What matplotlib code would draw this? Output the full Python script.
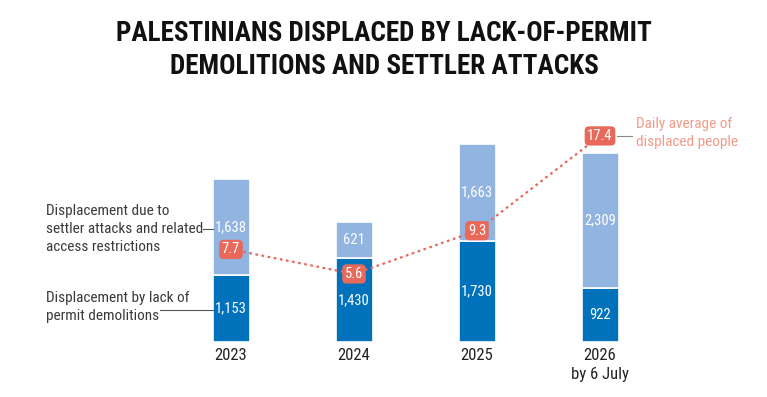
import matplotlib
matplotlib.use("Agg")
import matplotlib.pyplot as plt
from matplotlib import font_manager
from matplotlib.font_manager import FontProperties
import os

years = ["2023", "2024", "2025", "2026\nby 6 July"]
demolitions = [1153, 1430, 1730, 922]
settler = [1638, 621, 1663, 2309]
daily_avg = [7.7, 5.6, 9.3, 17.4]

DARK = "#0072bc"
LIGHT = "#92b4e0"
RED = "#e8685a"
SALMON = "#f29a88"

files = [f.fname for f in font_manager.fontManager.ttflist]
def find(pref):
    for p in pref:
        for f in files:
            if os.path.basename(f).lower() == p.lower():
                return f
    return None

reg = find(['RobotoCondensed-Regular.ttf', 'LiberationSansNarrow-Regular.ttf', 'DejaVuSansCondensed.ttf'])
bold = find(['RobotoCondensed-Bold.ttf', 'LiberationSansNarrow-Bold.ttf', 'DejaVuSansCondensed-Bold.ttf'])
if reg:
    FP = FontProperties(fname=reg)
    sc = 1.0
else:
    FP = FontProperties(family='Roboto')
    sc = 0.88
if bold:
    FPB = FontProperties(fname=bold)
else:
    FPB = FontProperties(family='Roboto', weight='bold')

W, H = 767, 397
fig = plt.figure(figsize=(W/100, H/100), dpi=100)
base_px = 342
ax = fig.add_axes([0, (H-base_px)/H, 1, base_px/H])
x = list(range(len(years)))
spacing = 123.0
x0 = 231.0
ax.set_xlim(-x0/spacing, (W-x0)/spacing)
pxu = 0.0584
ax.set_ylim(0, base_px/pxu)
ax.axis('off')

bw = 37/spacing
ax.bar(x, demolitions, width=bw, color=DARK, edgecolor='white', linewidth=1.2)
ax.bar(x, settler, bottom=demolitions, width=bw, color=LIGHT, edgecolor='white', linewidth=1.2)

for i in x:
    d, s = demolitions[i], settler[i]
    ax.text(i, d/2, f"{d:,}", ha='center', va='center', color='white', fontproperties=FP, fontsize=10.5*sc)
    ax.text(i, d + s/2, f"{s:,}", ha='center', va='center', color='white', fontproperties=FP, fontsize=10.5*sc)
    ax.text(i, -6/pxu, years[i], ha='center', va='top', color='#222222', fontproperties=FP,
            fontsize=12*sc, linespacing=1.3)

ax2 = ax.twinx()
s2 = 11.7
y0 = -2.5/s2
ax2.set_ylim(y0, y0 + base_px/s2)
ax2.axis('off')
ax2.plot(x, daily_avg, linestyle=(0, (1.2, 1.6)), color=RED, linewidth=1.6)
for i, v in enumerate(daily_avg):
    ax2.text(i, v, f"{v}", ha='center', va='center', color='white', fontproperties=FP, fontsize=10.5*sc,
             bbox=dict(boxstyle='round,pad=0.18,rounding_size=0.3', fc=RED, ec='none'))

# left annotations
fig.text(46/W, 1-229/H, "Displacement due to\nsettler attacks and related\naccess restrictions",
         ha='left', va='center', fontproperties=FP, fontsize=11*sc, color='#3a3a3a', linespacing=1.38)
fig.add_artist(plt.Line2D([203/W, 213/W], [1-229/H, 1-229/H], color='#555555', linewidth=0.8))
fig.text(46/W, 1-307/H, "Displacement by lack of\npermit demolitions",
         ha='left', va='center', fontproperties=FP, fontsize=11*sc, color='#3a3a3a', linespacing=1.38)
fig.add_artist(plt.Line2D([160/W, 213/W], [1-310/H, 1-310/H], color='#555555', linewidth=0.8))

# right annotation
fig.text(636/W, 1-133/H, "Daily average of\ndisplaced people", ha='left', va='center',
         fontproperties=FP, fontsize=11*sc, color=SALMON, linespacing=1.38)
fig.add_artist(plt.Line2D([617/W, 632/W], [1-136/H, 1-136/H], color='#888888', linewidth=0.8))

fig.text(384/W, 1-50/H, "PALESTINIANS DISPLACED BY LACK-OF-PERMIT\nDEMOLITIONS AND SETTLER ATTACKS",
         ha='center', va='center', fontproperties=FPB, fontsize=(19.5 if bold else 17), color='#111111',
         linespacing=1.3)

fig.savefig("out.png", dpi=100, facecolor='white')
